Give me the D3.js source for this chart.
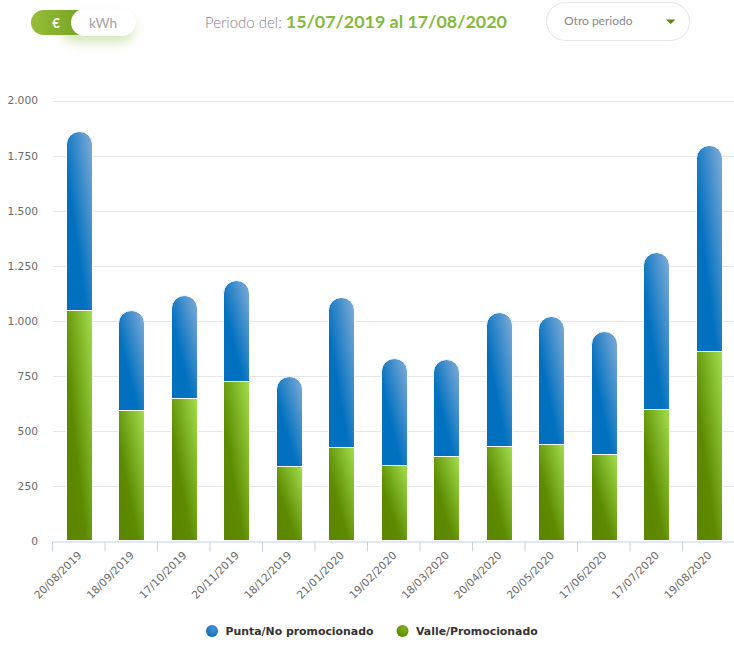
<!DOCTYPE html>
<html>
<head>
<meta charset="utf-8">
<script src="https://d3js.org/d3.v7.min.js"></script>
<style type="text/css">
    html, body { margin: 0; padding: 0; background: #fff; }
    svg { display: block; }
    .axis text { font-family: "DejaVu Sans", sans-serif; font-size: 10.7px; fill: #6b6b6b; }
</style>
</head>
<body>
<div id="chart"></div>
<script type="text/javascript">
const fechas = ["20/08/2019","18/09/2019","17/10/2019","20/11/2019","18/12/2019","21/01/2020","19/02/2020","18/03/2020","20/04/2020","20/05/2020","17/06/2020","17/07/2020","19/08/2020"]
const valle = [1045, 590, 645, 723, 336, 423, 341, 382, 427, 436, 391, 595, 859]
const punta = [812, 454, 467, 457, 409, 680, 485, 440, 608, 581, 558, 713, 936]
const yTicks = [0, 250, 500, 750, 1000, 1250, 1500, 1750, 2000]
const leyenda = ["Punta/No promocionado", "Valle/Promocionado"]

const svg = d3.select("#chart").append("svg").attr("width", 734).attr("height", 652)
const defs = svg.append("defs")

function gradient(id, x1, y1, x2, y2, stops){
    const g = defs.append("linearGradient").attr("id", id)
        .attr("x1", x1).attr("y1", y1).attr("x2", x2).attr("y2", y2)
    stops.forEach(s => g.append("stop").attr("offset", s[0]).attr("stop-color", s[1]))
}
gradient("gradPunta", 1, 0, 0, 1, [[0, "#85aed8"], [0.62, "#0070bf"], [1, "#0070bf"]])
gradient("gradValle", 1, 0, 0, 1, [[0, "#a3e04e"], [0.62, "#5c8a00"], [1, "#5c8500"]])
gradient("gradBoton", 0, 0, 1, 0, [[0, "#96bd37"], [1, "#6fa01f"]])
const dotP = defs.append("radialGradient").attr("id", "dotPunta").attr("cx", 0.6).attr("cy", 0.3).attr("r", 0.8)
dotP.append("stop").attr("offset", 0).attr("stop-color", "#4a94d6")
dotP.append("stop").attr("offset", 1).attr("stop-color", "#0068b4")
const dotV = defs.append("radialGradient").attr("id", "dotValle").attr("cx", 0.6).attr("cy", 0.3).attr("r", 0.8)
dotV.append("stop").attr("offset", 0).attr("stop-color", "#7fb31c")
dotV.append("stop").attr("offset", 1).attr("stop-color", "#558300")
const blur = defs.append("filter").attr("id", "sombra").attr("x", "-40%").attr("y", "-60%").attr("width", "180%").attr("height", "260%")
blur.append("feGaussianBlur").attr("stdDeviation", 6)

// header
svg.append("rect").attr("x", 62).attr("y", 16).attr("width", 72).attr("height", 26).attr("rx", 13)
    .attr("fill", "#a9d27a").attr("opacity", 0.55).attr("filter", "url(#sombra)")
svg.append("rect").attr("x", 31).attr("y", 10).attr("width", 60).attr("height", 25).attr("rx", 12.5).attr("fill", "url(#gradBoton)")
svg.append("rect").attr("x", 71).attr("y", 9).attr("width", 65).attr("height", 27).attr("rx", 13.5).attr("fill", "#fff")
svg.append("text").attr("x", 56).attr("y", 28).attr("text-anchor", "middle")
    .style("font", "bold 13px Lato").attr("fill", "#fff").text("€")
svg.append("text").attr("x", 103).attr("y", 28).attr("text-anchor", "middle")
    .style("font", "13.5px Lato").attr("fill", "#a3a3a3").text("kWh")

const periodo = svg.append("text").attr("x", 205).attr("y", 28)
periodo.append("tspan").style("font", "300 15px Lato").attr("fill", "#85808f").text("Periodo del: ")
periodo.append("tspan").style("font", "bold 17.85px Lato").attr("fill", "#84b93c").text("15/07/2019 al 17/08/2020")

svg.append("rect").attr("x", 546.5).attr("y", 2.5).attr("width", 143).attr("height", 38).attr("rx", 19)
    .attr("fill", "#fff").attr("stroke", "#e6e6e6")
svg.append("text").attr("x", 564).attr("y", 25).style("font", "12px Lato").attr("fill", "#8a8a8a").text("Otro periodo")
svg.append("path").attr("d", d3.line()([[666, 19.5], [675.5, 19.5], [670.7, 24]])).attr("fill", "#5a8700")

// scales
const x = d3.scaleBand().domain(fechas).range([53, 735.5])
const y = d3.scaleLinear().domain([0, 2000]).range([541, 100.5])
const barW = 26

// grid + y axis
const yAxis = svg.append("g").attr("class", "axis")
    .attr("transform", "translate(53,0)")
    .call(d3.axisLeft(y).tickValues(yTicks).tickSize(0).tickPadding(15)
        .tickFormat(d => d3.format(",")(d).replace(/,/g, ".")))
yAxis.select(".domain").remove()

svg.append("g").selectAll("line").data(yTicks.filter(d => d > 0)).join("line")
    .attr("x1", 53).attr("x2", 734)
    .attr("y1", d => Math.round(y(d)) + 0.5).attr("y2", d => Math.round(y(d)) + 0.5)
    .attr("stroke", "#e6e6e6")

// bars, the white stroke is what cuts the grid lines beside them
function topRounded(x0, y0, w, h, r){
    return "M" + x0 + "," + (y0 + h) + "V" + (y0 + r) + "A" + r + "," + r + " 0 0 1 " + (x0 + r) + "," + y0
        + "H" + (x0 + w - r) + "A" + r + "," + r + " 0 0 1 " + (x0 + w) + "," + (y0 + r) + "V" + (y0 + h) + "Z"
}
const barX = d => Math.floor(x(d) + x.bandwidth() / 2 - barW / 2) + 0.5
const crisp = v => Math.round(v) - 0.5
const barras = svg.append("g")
barras.selectAll("path.punta").data(fechas).join("path")
    .attr("class", "punta")
    .attr("d", (d, i) => {
        const top = crisp(y(valle[i] + punta[i]))
        return topRounded(barX(d), top, barW, crisp(y(valle[i])) - top, 13)
    })
    .attr("fill", "url(#gradPunta)")
    .attr("stroke", "#fff")
barras.selectAll("rect.valle").data(fechas).join("rect")
    .attr("class", "valle")
    .attr("x", barX)
    .attr("width", barW)
    .attr("y", (d, i) => crisp(y(valle[i])))
    .attr("height", (d, i) => crisp(y(0)) - crisp(y(valle[i])))
    .attr("fill", "url(#gradValle)")
    .attr("stroke", "#fff")

// x axis, ticks sit on the band edges so they get their own scale
const edges = d3.scaleLinear().domain([0, fechas.length]).range([52, 734.5])
const xEdges = svg.append("g").attr("transform", "translate(0,541.5)")
    .call(d3.axisBottom(edges).ticks(fechas.length).tickSize(10).tickFormat(""))
xEdges.selectAll("line").attr("stroke", "#c6d2e4")
xEdges.select(".domain").attr("stroke", "#c6d2e4").attr("d", "M52,0.5H734")

const xAxis = svg.append("g").attr("class", "axis").attr("transform", "translate(0,541)")
    .call(d3.axisBottom(x).tickSize(0))
xAxis.select(".domain").remove()
xAxis.selectAll("text")
    .attr("text-anchor", "end")
    .attr("dy", null).attr("y", null)
    .attr("transform", "translate(3,15) rotate(-45)")

// legend
const itemsX = [212, 402.5]
const dots = ["url(#dotPunta)", "url(#dotValle)"]
leyenda.forEach((t, i) => {
    svg.append("circle").attr("cx", itemsX[i]).attr("cy", 631).attr("r", 6).attr("fill", dots[i])
    svg.append("text").attr("x", itemsX[i] + 13.5).attr("y", 635)
        .style("font", "bold 10.9px 'DejaVu Sans'").attr("fill", "#333").text(t)
})
</script>
</body>
</html>
